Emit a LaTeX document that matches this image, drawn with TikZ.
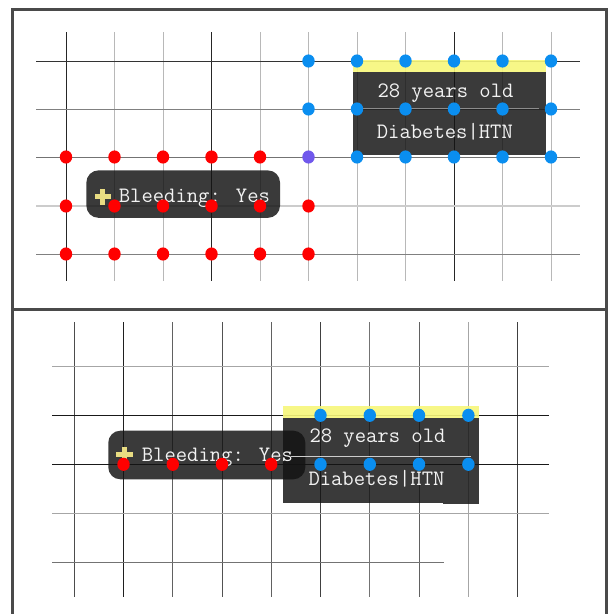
\documentclass[tikz,border=0pt]{standalone}
\usepackage{fontspec}
\definecolor{frameC}{HTML}{4A4A4A}
\definecolor{boxC}{HTML}{131313}
\definecolor{yelC}{HTML}{F7F77A}
\definecolor{plusC}{HTML}{E8DC82}
\definecolor{dotRed}{HTML}{FF0000}
\definecolor{dotBlue}{HTML}{0A8EF0}
\definecolor{dotMix}{HTML}{7058EC}
\definecolor{txtC}{HTML}{F2F2F2}
\begin{document}
\begin{tikzpicture}[x=1pt,y=-1pt,
  frameline/.style={draw=frameC,line width=3pt},
  gl/.style={line width=0.9pt,draw=#1},
  darkbox/.style={fill=boxC,fill opacity=0.83,draw=none},
  roundbox/.style={darkbox,rounded corners=12pt},
  yelbar/.style={fill=yelC,fill opacity=0.9,draw=none},
  txt/.style={text=txtC,font=\ttfamily\fontsize{22}{24}\selectfont,inner sep=0pt,anchor=base west},
  dR/.style={fill=dotRed},
  dB/.style={fill=dotBlue},
  dM/.style={fill=dotMix},
  plus/.style={fill=plusC}
]
\useasboundingbox (0,0) rectangle (609,614);
\fill[white] (0,0) rectangle (609,614);

% ---------- top panel ----------
\foreach \x/\c in {66/black!85,114.5/black!28,163/black!28,211.5/black!85,260/black!28,308.5/black!28,357/black!28,405.5/black!28,454/black!85,502.5/black!28,551/black!28}
  \draw[gl=\c] (\x,32) -- (\x,281);
\draw[gl=black!80] (36,61) -- (580,61);
\draw[gl=black!50] (36,109) -- (580,109);
\draw[gl=black!55] (36,157) -- (580,157);
\draw[gl=black!20,line width=2pt] (36,206) -- (580,206);
\draw[gl=black!50] (36,254) -- (580,254);

% blue box
\fill[yelbar] (352.5,60) rectangle (546,72);
\fill[darkbox] (352.5,72) rectangle (546,155);
\draw[draw=black!45,line width=1pt] (352.5,108.5) -- (539,108.5);
\node[txt] (ageT) at (377.3,97.3) {28 years old};
\node[txt] (condT) at (376.7,138.3) {Diabetes|HTN};

% bleeding box
\fill[roundbox] (86.4,170.4) rectangle (280,217.8);
\fill[plus] (94.5,194.3) rectangle (111,199.3);
\fill[plus] (100.2,189) rectangle (105.2,204.5);
\node[txt] (bleedT) at (118.7,202.7) {Bleeding: Yes};

% dots
\foreach \y in {61,109}
  \foreach \x in {308.5,357,405.5,454,502.5,551}
    \fill[dB] (\x,\y) ellipse (6.2 and 6.6);
\foreach \x in {357,405.5,454,502.5,551}
  \fill[dB] (\x,157) ellipse (6.2 and 6.6);
\fill[dM] (308.5,157) ellipse (6.2 and 6.6);
\foreach \x in {66,114.5,163,211.5,260}
  \fill[dR] (\x,157) ellipse (6.2 and 6.6);
\foreach \y in {206,254}
  \foreach \x in {66,114.5,163,211.5,260,308.5}
    \fill[dR] (\x,\y) ellipse (6.2 and 6.6);

% ---------- bottom panel ----------
\foreach \x/\c in {74/black!70,123.5/black!88,172.8/black!62,222/black!68,271.2/black!62,320.5/black!75,369.8/black!55,419/black!62,468.4/black!35,517.7/black!75}
  \draw[gl=\c] (\x,322) -- (\x,597);
\draw[gl=black!35] (52,366) -- (548.6,366);
\draw[gl=black!90] (52,415.3) -- (548.6,415.3);
\draw[gl=black!90] (52,464.3) -- (548.6,464.3);
\draw[gl=black!35] (52,513.3) -- (548.6,513.3);
\draw[gl=black!55] (52,562.3) -- (443.6,562.3);

% blue box
\fill[yelbar] (283.3,405.7) rectangle (479.3,418.3);
\fill[darkbox] (283.3,418.3) rectangle (479.3,502.7);
\fill[darkbox] (442.7,502.7) rectangle (479.3,504.3);
% bleeding box
\fill[roundbox] (108.3,430.7) rectangle (305.3,479.3);
\draw[draw=black!20,line width=1pt] (290.7,456) -- (470.7,456);
\node[txt] (ageB) at (309.3,442.3) {28 years old};
\node[txt] (condB) at (308.3,485.7) {Diabetes|HTN};
\fill[plus] (116.2,452) rectangle (132.7,457);
\fill[plus] (121.9,446.8) rectangle (126.9,461);
\node[txt] (bleedB) at (141.7,461) {Bleeding: Yes};

\foreach \y in {415.3,464.3}
  \foreach \x in {320.5,369.8,419,468.4}
    \fill[dB] (\x,\y) ellipse (6.2 and 6.6);
\foreach \x in {123.5,172.8,222,271.2}
  \fill[dR] (\x,464.3) ellipse (6.2 and 6.6);

% ---------- frames ----------
\draw[frameline] (12,9) rectangle (606,309);
\draw[frameline] (12,309) -- (12,620);
\draw[frameline] (606,309) -- (606,620);
\end{tikzpicture}
\end{document}
